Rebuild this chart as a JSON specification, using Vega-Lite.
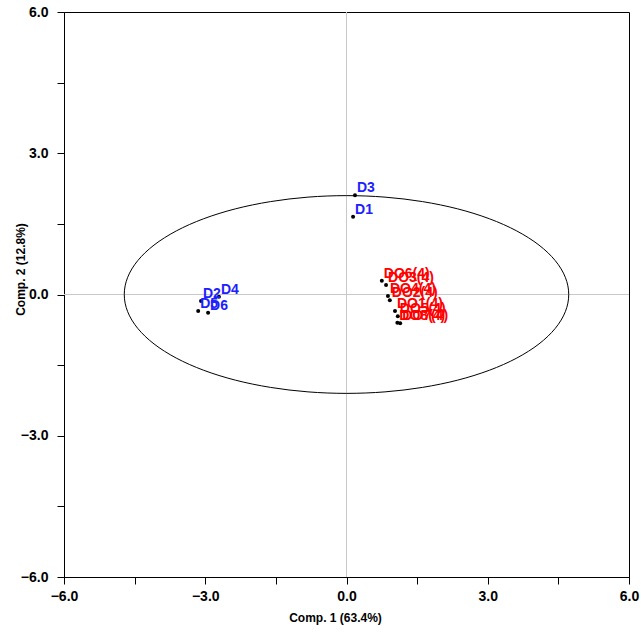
{
  "$schema": "https://vega.github.io/schema/vega-lite/v6.json",
  "width": 565,
  "height": 565,
  "autosize": {"type": "none"},
  "padding": {"left": 64, "top": 12, "right": 12, "bottom": 60},
  "background": "white",
  "config": {
    "view": {"stroke": "black", "strokeWidth": 1},
    "font": "Liberation Sans"
  },
  "datasets": {
    "ellipse": [
      {"i":0,"x":4.72,"y":0},{"i":1,"x":4.648,"y":0.365},{"i":2,"x":4.435,"y":0.718},{"i":3,"x":4.088,"y":1.05},
      {"i":4,"x":3.616,"y":1.35},{"i":5,"x":3.034,"y":1.609},{"i":6,"x":2.36,"y":1.819},{"i":7,"x":1.614,"y":1.973},
      {"i":8,"x":0.819,"y":2.068},{"i":9,"x":0,"y":2.1},{"i":10,"x":-0.819,"y":2.068},{"i":11,"x":-1.614,"y":1.973},
      {"i":12,"x":-2.36,"y":1.819},{"i":13,"x":-3.034,"y":1.609},{"i":14,"x":-3.616,"y":1.35},{"i":15,"x":-4.088,"y":1.05},
      {"i":16,"x":-4.435,"y":0.718},{"i":17,"x":-4.648,"y":0.365},{"i":18,"x":-4.72,"y":0},{"i":19,"x":-4.648,"y":-0.365},
      {"i":20,"x":-4.435,"y":-0.718},{"i":21,"x":-4.088,"y":-1.05},{"i":22,"x":-3.616,"y":-1.35},{"i":23,"x":-3.034,"y":-1.609},
      {"i":24,"x":-2.36,"y":-1.819},{"i":25,"x":-1.614,"y":-1.973},{"i":26,"x":-0.819,"y":-2.068},{"i":27,"x":0,"y":-2.1},
      {"i":28,"x":0.819,"y":-2.068},{"i":29,"x":1.614,"y":-1.973},{"i":30,"x":2.36,"y":-1.819},{"i":31,"x":3.034,"y":-1.609},
      {"i":32,"x":3.616,"y":-1.35},{"i":33,"x":4.088,"y":-1.05},{"i":34,"x":4.435,"y":-0.718},{"i":35,"x":4.648,"y":-0.365}
    ],
    "points": [
      {"label":"D3","x":0.18,"y":2.11,"group":"D"},
      {"label":"D1","x":0.14,"y":1.65,"group":"D"},
      {"label":"D4","x":-2.71,"y":-0.05,"group":"D"},
      {"label":"D2","x":-3.09,"y":-0.14,"group":"D"},
      {"label":"D5","x":-3.15,"y":-0.35,"group":"D"},
      {"label":"D6","x":-2.94,"y":-0.39,"group":"D"},
      {"label":"DO7(4)","x":1.14,"y":-0.61,"group":"DO"},
      {"label":"DO8(4)","x":1.08,"y":-0.6,"group":"DO"},
      {"label":"DO5(4)","x":1.09,"y":-0.46,"group":"DO"},
      {"label":"DO1(4)","x":1.03,"y":-0.35,"group":"DO"},
      {"label":"DO2(4)","x":0.92,"y":-0.12,"group":"DO"},
      {"label":"DO4(4)","x":0.88,"y":-0.03,"group":"DO"},
      {"label":"DO3(4)","x":0.84,"y":0.2,"group":"DO"},
      {"label":"DO6(4)","x":0.75,"y":0.29,"group":"DO"}
    ],
    "zero": [{"v":0}]
  },
  "layer": [
    {
      "data": {"name": "zero"},
      "mark": {"type": "rule", "color": "#c8c8c8", "strokeWidth": 1},
      "encoding": {"x": {"field": "v", "type": "quantitative", "scale": {"domain": [-6, 6], "nice": false, "zero": false}}}
    },
    {
      "data": {"name": "zero"},
      "mark": {"type": "rule", "color": "#c8c8c8", "strokeWidth": 1},
      "encoding": {"y": {"field": "v", "type": "quantitative", "scale": {"domain": [-6, 6], "nice": false, "zero": false}}}
    },
    {
      "data": {"name": "ellipse"},
      "mark": {"type": "line", "color": "black", "strokeWidth": 1, "interpolate": "cardinal-closed"},
      "encoding": {
        "x": {"field": "x", "type": "quantitative"},
        "y": {"field": "y", "type": "quantitative"},
        "order": {"field": "i", "type": "quantitative"}
      }
    },
    {
      "data": {"name": "points"},
      "mark": {"type": "circle", "color": "black", "opacity": 1, "size": 16},
      "encoding": {
        "x": {
          "field": "x", "type": "quantitative",
          "scale": {"domain": [-6, 6], "nice": false, "zero": false},
          "axis": {
            "title": "Comp. 1 (63.4%)",
            "values": [-6, -4.5, -3, -1.5, 0, 1.5, 3, 4.5, 6],
            "labelExpr": "datum.value % 3 === 0 ? format(datum.value, '.1f') : ''",
            "grid": false,
            "domainColor": "black",
            "tickColor": "black",
            "tickSize": 7,
            "labelPadding": 5,
            "labelFont": "Liberation Sans",
            "labelFontSize": 14,
            "labelFontWeight": "bold",
            "labelColor": "black",
            "labelFlush": false,
            "titleFont": "Liberation Sans",
            "titleFontSize": 12,
            "titleFontWeight": "bold",
            "titleColor": "black",
            "titleX": 271,
            "titleY": 35,
            "titleBaseline": "top"
          }
        },
        "y": {
          "field": "y", "type": "quantitative",
          "scale": {"domain": [-6, 6], "nice": false, "zero": false},
          "axis": {
            "title": "Comp. 2 (12.8%)",
            "values": [-6, -4.5, -3, -1.5, 0, 1.5, 3, 4.5, 6],
            "labelExpr": "datum.value % 3 === 0 ? format(datum.value, '.1f') : ''",
            "grid": false,
            "domainColor": "black",
            "tickColor": "black",
            "tickSize": 7,
            "labelPadding": 9,
            "labelFont": "Liberation Sans",
            "labelFontSize": 14,
            "labelFontWeight": "bold",
            "labelColor": "black",
            "labelFlush": false,
            "titleFont": "Liberation Sans",
            "titleFontSize": 12,
            "titleFontWeight": "bold",
            "titleColor": "black",
            "titleX": -37,
            "titleY": 257,
            "titleBaseline": "bottom"
          }
        }
      }
    },
    {
      "data": {"name": "points"},
      "mark": {"type": "text", "align": "left", "baseline": "alphabetic", "dx": 2, "dy": -3, "font": "Liberation Sans", "fontSize": 14, "fontWeight": "bold"},
      "encoding": {
        "x": {"field": "x", "type": "quantitative"},
        "y": {"field": "y", "type": "quantitative"},
        "text": {"field": "label"},
        "color": {"field": "group", "type": "nominal", "scale": {"domain": ["D", "DO"], "range": ["#2020ff", "#ff0000"]}, "legend": null}
      }
    }
  ]
}
